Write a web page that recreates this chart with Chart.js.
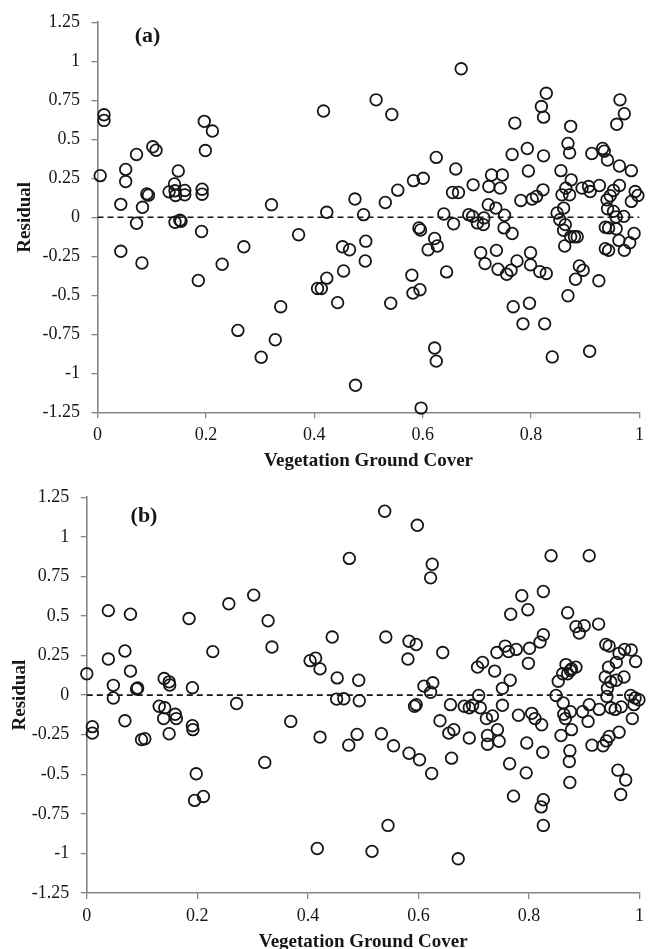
<!DOCTYPE html>
<html><head><meta charset="utf-8">
<script src="https://cdn.jsdelivr.net/npm/chart.js@4/dist/chart.umd.min.js"></script>
<style>
html,body{margin:0;padding:0;background:#fff;overflow:hidden;width:650px;height:949px;}
#wa{position:absolute;left:0;top:0;width:650px;height:475px;}
#wb{position:absolute;left:0;top:475px;width:650px;height:490px;}
canvas{display:block;}
</style></head><body>
<div id="wa"><canvas id="ca" width="650" height="475"></canvas></div>
<div id="wb"><canvas id="cb" width="650" height="490"></canvas></div>
<script>
// ---- tick labels / texts ----
const xTickValues = [0, 0.2, 0.4, 0.6, 0.8, 1];
const yTickValues = [1.25, 1, 0.75, 0.5, 0.25, 0, -0.25, -0.5, -0.75, -1, -1.25];
const xTitle = 'Vegetation Ground Cover';
const yTitle = 'Residual';
const panelLabels = ['(a)', '(b)'];
const refLineX = [0, 1];
const refLineY = [0, 0];

// ---- panel (a) ----
const coverA = [0.005,0.012,0.012,0.052,0.052,0.072,0.043,0.083,0.072,0.043,0.082,0.091,0.094,0.102,0.108,0.132,0.142,0.143,0.144,0.149,0.161,0.161,0.143,0.152,0.154,0.193,0.193,0.192,0.186,0.197,0.212,0.199,0.230,0.270,0.259,0.302,0.321,
0.338,0.328,0.371,0.417,0.423,0.423,0.406,0.413,0.443,0.452,0.465,0.454,0.475,0.491,0.495,0.494,0.476,0.514,0.543,0.531,0.554,0.583,0.601,0.541,0.580,0.582,0.595,0.593,0.596,0.622,0.627,0.610,0.644,0.622,0.625,0.597,0.625,0.661,0.655,0.666,0.639,0.657,0.671,
0.693,0.685,0.692,0.701,0.713,0.712,0.721,0.722,0.727,0.735,0.747,0.743,0.751,0.750,0.765,0.765,0.770,0.793,0.795,0.781,0.802,0.810,0.822,0.823,0.819,0.823,0.828,0.707,0.715,0.736,0.739,0.755,0.763,0.774,0.799,0.799,0.816,0.828,0.767,0.797,0.785,0.825,0.839,
0.855,0.864,0.874,0.857,0.871,0.868,0.873,0.871,0.848,0.860,0.853,0.863,0.860,0.873,0.880,0.885,0.862,0.889,0.896,0.882,0.868,0.925,0.908,0.894,0.906,0.909,0.912,0.926,0.932,0.935,0.941,0.963,0.985,0.940,0.946,0.952,0.963,0.941,0.952,0.957,0.971,0.964,0.972,0.958,0.992,0.997,0.985,0.937,0.943,0.957,0.990,0.937,0.943,0.962,0.972,0.982];
const residualA = [0.267,0.657,0.621,0.307,0.229,0.403,0.083,0.064,-0.038,-0.218,-0.293,0.150,0.142,0.452,0.430,0.163,0.214,0.170,0.140,0.297,0.172,0.144,-0.032,-0.019,-0.025,0.180,0.148,-0.091,-0.405,0.615,0.553,0.428,-0.301,-0.189,-0.725,-0.897,0.081,
-0.573,-0.785,-0.112,0.681,0.032,-0.390,-0.456,-0.456,-0.547,-0.189,-0.208,-0.344,0.117,0.017,-0.153,-0.280,-1.077,0.753,0.659,0.095,0.174,0.235,0.250,-0.551,-0.371,-0.486,-0.464,-0.068,-0.081,-0.136,-0.184,-0.208,-0.350,-0.838,-0.922,-1.223,0.384,0.310,0.159,0.159,0.021,-0.042,0.952,
0.208,0.017,0.006,-0.036,-0.004,-0.047,0.081,0.197,0.271,0.059,0.271,0.187,0.013,-0.068,-0.104,0.403,0.604,0.441,0.297,0.108,0.117,0.134,0.176,0.394,0.710,0.642,0.795,-0.227,-0.297,-0.212,-0.333,-0.365,-0.339,-0.280,-0.227,-0.305,-0.348,-0.360,-0.573,-0.551,-0.683,-0.683,-0.895,
0.299,0.187,0.240,0.144,0.144,0.473,0.583,0.413,0.028,0.059,-0.015,-0.047,-0.083,-0.125,-0.125,-0.125,-0.184,-0.312,-0.339,-0.397,-0.503,-0.407,-0.859,0.187,0.197,0.165,0.409,0.204,0.441,0.424,0.367,0.329,0.299,0.112,0.138,0.172,0.204,0.055,0.038,0.002,0.006,0.753,0.664,0.596,0.165,0.140,0.102,-0.064,-0.068,-0.074,-0.104,-0.201,-0.212,-0.148,-0.212,-0.163];

// ---- panel (b) ----
const coverB = [0.000,0.010,0.010,0.039,0.039,0.048,0.048,0.069,0.079,0.079,0.069,0.090,0.092,0.099,0.105,0.131,0.140,0.149,0.150,0.141,0.139,0.160,0.162,0.149,0.191,0.191,0.192,0.185,0.198,0.195,0.211,0.228,0.271,0.257,0.302,0.328,0.335,0.322,
0.369,0.404,0.414,0.422,0.422,0.417,0.444,0.453,0.452,0.465,0.492,0.493,0.489,0.474,0.475,0.533,0.541,0.539,0.555,0.545,0.516,0.583,0.596,0.581,0.598,0.625,0.622,0.644,0.610,0.626,0.622,0.593,0.596,0.583,0.602,0.624,0.639,0.658,0.655,0.664,0.660,0.672,
0.683,0.692,0.698,0.709,0.712,0.692,0.707,0.716,0.723,0.734,0.725,0.725,0.743,0.746,0.738,0.742,0.757,0.763,0.777,0.752,0.766,0.752,0.767,0.787,0.798,0.801,0.799,0.826,0.820,0.826,0.781,0.805,0.811,0.823,0.796,0.825,0.765,0.795,0.772,0.826,0.822,0.826,
0.840,0.909,0.870,0.885,0.891,0.900,0.926,0.867,0.877,0.885,0.861,0.870,0.853,0.875,0.849,0.862,0.875,0.863,0.866,0.877,0.858,0.874,0.873,0.874,0.897,0.909,0.907,0.927,0.914,0.934,0.940,0.945,0.963,0.961,0.975,0.966,
0.939,0.945,0.963,0.973,0.985,0.993,0.944,0.958,0.938,0.948,0.958,0.972,0.942,0.941,0.948,0.956,0.967,0.984,0.992,0.999,0.990,0.987];
const residualB = [0.135,-0.199,-0.240,0.534,0.228,0.062,-0.018,0.279,0.152,0.511,-0.162,0.039,0.045,-0.281,-0.275,-0.070,0.105,0.084,0.064,-0.080,-0.148,-0.121,-0.148,-0.244,0.047,-0.193,-0.218,0.484,-0.497,-0.665,-0.640,0.275,-0.053,0.577,0.632,0.470,0.304,-0.425,
-0.166,0.218,0.234,0.166,-0.265,-0.969,0.367,0.109,-0.025,-0.023,0.094,-0.035,-0.248,-0.316,0.864,-0.244,0.367,1.162,-0.320,-0.823,-0.987,0.341,0.320,0.228,1.073,0.827,0.741,0.269,0.057,0.078,0.018,-0.070,-0.060,-0.367,-0.408,-0.495,-0.162,-0.060,-0.240,-0.218,-0.398,-1.034,
-0.070,-0.080,-0.064,-0.002,-0.080,-0.271,0.177,0.207,-0.148,-0.131,-0.255,-0.310,-0.218,-0.291,0.152,0.269,0.310,0.275,0.289,0.043,0.094,-0.064,0.511,0.628,0.540,0.296,0.201,0.655,0.335,0.382,-0.127,-0.115,-0.148,-0.187,-0.302,-0.361,-0.433,-0.491,-0.638,-0.661,-0.706,-0.823,
0.881,0.881,0.521,0.433,0.392,0.439,0.449,0.193,0.166,0.177,0.135,0.135,0.088,0.156,-0.002,-0.049,-0.105,-0.121,-0.148,-0.218,-0.255,-0.351,-0.419,-0.552,-0.105,-0.060,-0.166,-0.090,-0.316,-0.320,-0.289,-0.261,-0.234,-0.474,-0.536,-0.628,
0.320,0.310,0.263,0.289,0.285,0.213,0.177,0.207,0.115,0.084,0.094,0.115,0.043,-0.008,-0.080,-0.090,-0.074,-0.002,-0.018,-0.029,-0.060,-0.148];

const FONT = "'Liberation Serif','Times New Roman',serif";
const AXIS_GREY = '#858585';
const INK = '#161616';

function fmt(v){ return String(Math.round(v * 100) / 100); }

function makeChart(canvasId, cover, residual, g) {
  const panelPlugin = {
    id: 'panelLabel',
    afterDraw(chart) {
      const ctx = chart.ctx, ca = chart.chartArea;
      ctx.save();
      ctx.font = 'bold 22px ' + FONT;
      ctx.fillStyle = INK;
      ctx.textAlign = 'center';
      ctx.textBaseline = 'middle';
      ctx.fillText(g.label, ca.left + g.labelDx, ca.top + g.labelDy);
      ctx.restore();
    }
  };
  return new Chart(document.getElementById(canvasId), {
    data: {
      datasets: [
        {
          type: 'scatter',
          data: cover.map((x, i) => ({x: x, y: residual[i]})),
          pointStyle: 'circle',
          pointRadius: 5.8,
          pointHoverRadius: 5.8,
          borderWidth: 1.8,
          borderColor: INK,
          backgroundColor: 'rgba(0,0,0,0)',
          clip: false,
          order: 1
        },
        {
          type: 'line',
          data: refLineX.map((x, i) => ({x: x, y: refLineY[i]})),
          borderColor: INK,
          borderWidth: 1.6,
          borderDash: [6, 4],
          pointRadius: 0,
          fill: false,
          order: 2
        }
      ]
    },
    options: {
      responsive: false,
      animation: false,
      devicePixelRatio: 1,
      layout: { padding: { top: g.top, right: 650 - g.right, left: 0, bottom: 0 } },
      plugins: { legend: { display: false }, tooltip: { enabled: false } },
      scales: {
        x: {
          type: 'linear',
          min: 0, max: 1,
          afterBuildTicks: s => { s.ticks = xTickValues.map(v => ({value: v})); },
          afterFit: s => { s.height = g.h - g.bottom; },
          grid: { drawOnChartArea: false, drawTicks: true, tickLength: 6, color: AXIS_GREY, lineWidth: 1.3 },
          border: { display: true, color: AXIS_GREY, width: 1.6 },
          ticks: { color: INK, padding: 6, maxRotation: 0, font: { family: FONT, size: 18 }, callback: v => fmt(v) },
          title: { display: true, text: xTitle, color: INK, font: { family: FONT, size: 19, weight: 'bold' }, padding: { top: 0, bottom: g.xTitlePad } }
        },
        y: {
          type: 'linear',
          min: -1.25, max: 1.25,
          afterBuildTicks: s => { s.ticks = yTickValues.slice().reverse().map(v => ({value: v})); },
          afterFit: s => { s.width = g.left; },
          grid: { drawOnChartArea: false, drawTicks: true, tickLength: 6, color: AXIS_GREY, lineWidth: 1.3 },
          border: { display: true, color: AXIS_GREY, width: 1.6 },
          ticks: { color: INK, padding: 11.5, font: { family: FONT, size: 18 }, callback: v => fmt(v) },
          title: { display: true, text: yTitle, color: INK, font: { family: FONT, size: 19, weight: 'bold' }, padding: { top: g.yTitlePad, bottom: 0 } }
        }
      }
    },
    plugins: [panelPlugin]
  });
}

makeChart('ca', coverA, residualA, {
  h: 475, left: 97.5, right: 641, top: 19.3, bottom: 412.3,
  xTitlePad: 2.6, yTitlePad: 14, label: panelLabels[0], labelDx: 50, labelDy: 14.2
});
makeChart('cb', coverB, residualB, {
  h: 490, left: 86.8, right: 640.5, top: 12, bottom: 418,
  xTitlePad: 11.6, yTitlePad: 8.6, label: panelLabels[1], labelDx: 57.2, labelDy: 19
});
</script>
</body></html>
